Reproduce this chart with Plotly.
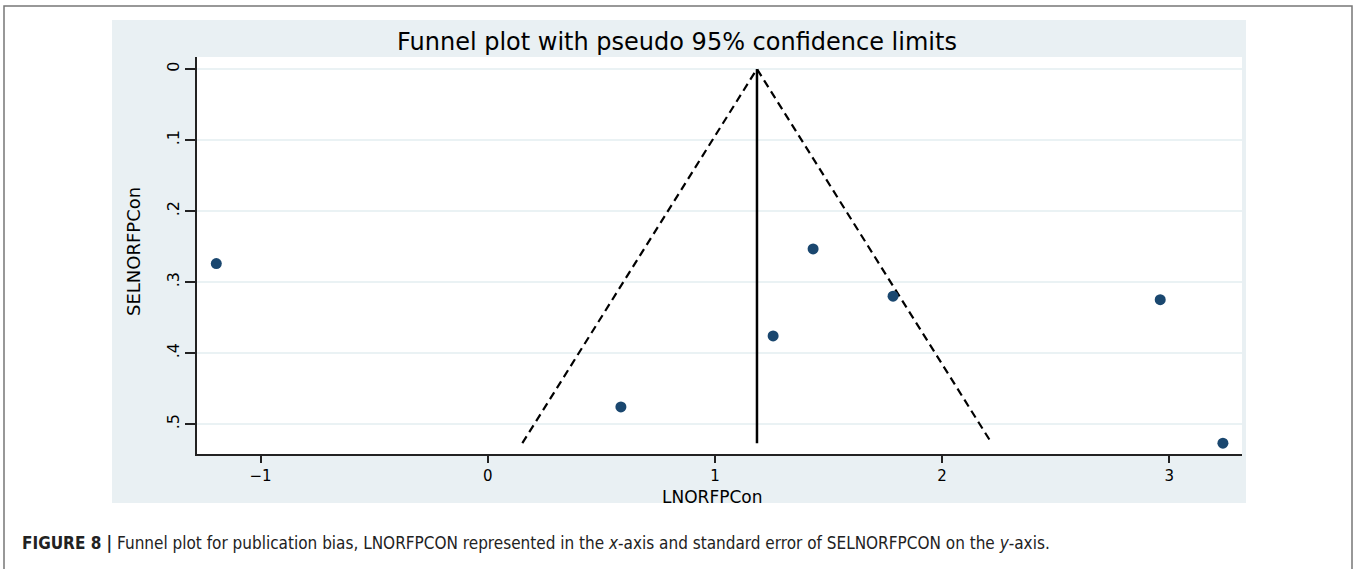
import plotly.graph_objects as go

# Study estimates: log odds ratio and its standard error
lnor = [-1.195, 0.586, 1.256, 1.432, 1.784, 2.960, 3.236]
se_lnor = [0.274, 0.476, 0.376, 0.2535, 0.320, 0.325, 0.527]

# Pooled estimate and the deepest point of the pseudo-confidence funnel
pooled = 1.185
se_max = 0.527
z95 = 1.96

x_ticks = [-1, 0, 1, 2, 3]
x_tick_text = ["\u22121", "0", "1", "2", "3"]
y_ticks = [0, 0.1, 0.2, 0.3, 0.4, 0.5]
y_tick_text = ["0", ".1", ".2", ".3", ".4", ".5"]

title_text = "Funnel plot with pseudo 95% confidence limits"
x_title = "LNORFPCon"
y_title = "SELNORFPCon"
caption = ("<b>FIGURE 8 |</b> Funnel plot for publication bias, LNORFPCON represented in the "
           "<i>x</i>-axis and standard error of SELNORFPCON on the <i>y</i>-axis.")

W, H = 1354, 569
L, R, T, B = 197, 1242, 57, 454  # plot area in pixels


def px(x):
    return (x - L) / (R - L)


def py(y):
    return (B - y) / (B - T)


fig = go.Figure()

# pseudo 95% confidence limits
fig.add_trace(go.Scatter(
    x=[pooled - z95 * se_max, pooled, pooled + z95 * se_max],
    y=[se_max, 0, se_max],
    mode="lines",
    line=dict(color="black", width=2.2, dash="8px,5px"),
    hoverinfo="skip",
))
# pooled estimate
fig.add_trace(go.Scatter(
    x=[pooled, pooled],
    y=[0, se_max],
    mode="lines",
    line=dict(color="black", width=2.5),
    hoverinfo="skip",
))
# studies
fig.add_trace(go.Scatter(
    x=lnor,
    y=se_lnor,
    mode="markers",
    marker=dict(color="#1a476f", size=11, symbol="circle"),
))

x_tick_font = dict(family="DejaVu Sans", size=15, color="black")
y_tick_font = dict(family="DejaVu Sans", size=16, color="black")

fig.update_xaxes(
    range=[-1.28, 3.32],
    tickvals=x_ticks,
    ticktext=x_tick_text,
    ticks="outside",
    ticklen=7,
    tickwidth=1.5,
    tickcolor="#222",
    showline=True,
    linecolor="#222",
    linewidth=1.5,
    showgrid=False,
    zeroline=False,
    tickfont=x_tick_font,
)
fig.update_yaxes(
    range=[0.5423, -0.0169],
    tickvals=y_ticks,
    ticktext=y_tick_text,
    tickangle=-90,
    ticks="outside",
    ticklen=10,
    tickwidth=1.5,
    tickcolor="#222",
    showline=True,
    linecolor="#222",
    linewidth=1.5,
    showgrid=True,
    gridcolor="#eaf2f4",
    gridwidth=1.5,
    zeroline=False,
    tickfont=y_tick_font,
)

shapes = [
    # outer frame
    dict(type="rect", xref="paper", yref="paper",
         x0=px(4), x1=px(1352), y0=py(575), y1=py(6),
         line=dict(color="#777", width=1.5), fillcolor="rgba(0,0,0,0)", layer="below"),
    # graph region background
    dict(type="rect", xref="paper", yref="paper",
         x0=px(112), x1=px(1246), y0=py(503), y1=py(20),
         line=dict(width=0), fillcolor="#e9f0f3", layer="below"),
    # plot region
    dict(type="rect", xref="paper", yref="paper",
         x0=0, x1=1, y0=0, y1=1,
         line=dict(width=0), fillcolor="white", layer="below"),
]

annotations = [
    dict(text=title_text, xref="paper", yref="paper", x=px(676.5), y=py(42),
         xanchor="center", yanchor="middle", showarrow=False,
         font=dict(family="DejaVu Sans", size=24, color="black")),
    dict(text=x_title, xref="paper", yref="paper", x=px(712), y=py(497),
         xanchor="center", yanchor="middle", showarrow=False,
         font=dict(family="DejaVu Sans", size=17, color="black")),
    dict(text=y_title, xref="paper", yref="paper", x=px(134), y=py(252),
         xanchor="center", yanchor="middle", showarrow=False, textangle=-90,
         font=dict(family="DejaVu Sans", size=18, color="black")),
    dict(text=caption, xref="paper", yref="paper", x=px(20), y=py(543),
         xanchor="left", yanchor="middle", showarrow=False,
         font=dict(family="Liberation Sans Narrow, DejaVu Sans Condensed, sans-serif",
                   size=17, color="#222")),
]

fig.update_layout(
    width=W, height=H,
    margin=dict(l=L, r=W - R, t=T, b=H - B, pad=0),
    paper_bgcolor="white",
    plot_bgcolor="rgba(0,0,0,0)",
    showlegend=False,
    shapes=shapes,
    annotations=annotations,
)

fig.write_html("out.html")
